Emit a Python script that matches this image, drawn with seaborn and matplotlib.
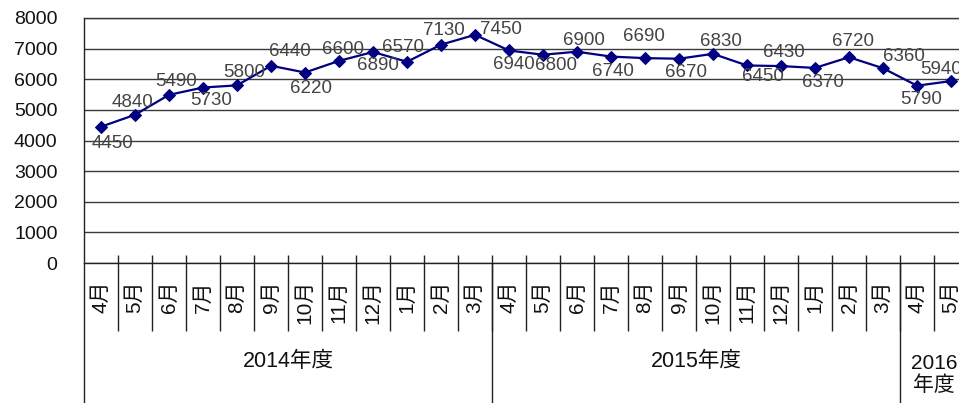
import matplotlib
matplotlib.use("Agg")
import matplotlib.pyplot as plt
import seaborn as sns
import pandas as pd

# Monthly values by fiscal year (April start)
months_2014 = ["4月", "5月", "6月", "7月", "8月", "9月", "10月", "11月", "12月", "1月", "2月", "3月"]
months_2015 = ["4月", "5月", "6月", "7月", "8月", "9月", "10月", "11月", "12月", "1月", "2月", "3月"]
months_2016 = ["4月", "5月"]
values_2014 = [4450, 4840, 5490, 5730, 5800, 6440, 6220, 6600, 6890, 6570, 7130, 7450]
values_2015 = [6940, 6800, 6900, 6740, 6690, 6670, 6830, 6450, 6430, 6370, 6720, 6360]
values_2016 = [5790, 5940]
year_labels = ["2014年度", "2015年度", "2016\n年度"]
y_ticks = [0, 1000, 2000, 3000, 4000, 5000, 6000, 7000, 8000]

months = months_2014 + months_2015 + months_2016
values = values_2014 + values_2015 + values_2016
df = pd.DataFrame({"pos": range(len(values)), "value": values})

# label placement (pixel offsets from each marker)
label_offsets = [(12, -17), (-2, 12), (7, 13), (8, -13), (7, 13), (19, 14),
                 (6, -16), (4, 11), (5, -14), (-4, 14), (3, 14), (26, 5),
                 (5, -14), (13, -11), (7, 11), (2, -15), (-1, 22), (7, -14),
                 (8, 12), (16, -11), (3, 14), (8, -15), (4, 16), (21, 12),
                 (4, -14), (-10, 12)]

sns.set_style("white")
plt.rcParams["font.family"] = ["Liberation Sans", "Noto Sans CJK JP", "DejaVu Sans"]

fig = plt.figure(figsize=(9.59, 4.03), dpi=100)
ax = fig.add_axes([84 / 959, 140 / 403, 884 / 959, 245 / 403])

sns.lineplot(data=df, x="pos", y="value", ax=ax, color="#000080", linewidth=1.6,
             marker="D", markersize=6.5, markeredgecolor="#000080",
             markerfacecolor="#000080", zorder=3)

for (x, v), (dx, dy) in zip(zip(df["pos"], df["value"]), label_offsets):
    ax.annotate(str(v), (x, v), xytext=(dx, dy), textcoords="offset pixels",
                ha="center", va="center", fontsize=13.5, color="#444444", zorder=4)

ax.set_xlim(-0.5, len(values) - 0.5)
ax.set_ylim(0, 8000)
ax.set_yticks(y_ticks)
ax.set_yticklabels([str(t) for t in y_ticks], fontsize=14)
ax.tick_params(axis="y", length=0, pad=19, labelcolor="#111111")
ax.set_xticks([])
ax.set_xlabel("")
ax.set_ylabel("")

ax.grid(axis="y", color="#3a3a3a", linewidth=1.0)
ax.grid(axis="x", visible=False)
ax.spines["right"].set_visible(False)
ax.spines["top"].set_color("#3a3a3a")
ax.spines["top"].set_linewidth(1.0)
ax.spines["bottom"].set_color("#222222")
ax.spines["left"].set_color("#222222")
ax.spines["left"].set_linewidth(1.0)
ax.spines["bottom"].set_linewidth(1.0)

tr = ax.get_xaxis_transform()
n = len(values)
# month separators
ax.vlines([i + 0.5 for i in range(n)], 0.033, -0.278, transform=tr,
          colors="#222222", linewidth=1.0, clip_on=False)
# fiscal-year separators and left edge extension
bounds = [-0.5, len(months_2014) - 0.5, len(months_2014) + len(months_2015) - 0.5]
ax.vlines(bounds, 0.0, -0.6, transform=tr, colors="#222222", linewidth=1.0, clip_on=False)

for i, m in enumerate(months):
    ax.text(i, -0.07, m, transform=tr, rotation=90, ha="center", va="top",
            fontsize=15, color="#111111")

starts = [0, len(months_2014), len(months_2014) + len(months_2015)]
counts = [len(months_2014), len(months_2015), len(months_2016)]
for s, c, lab in zip(starts, counts, year_labels):
    cx = s + (c - 1) / 2
    if "\n" in lab:
        ax.text(cx, -0.455, lab, transform=tr, ha="center", va="center",
                fontsize=15, color="#111111", linespacing=1.2, clip_on=False)
    else:
        ax.text(cx, -0.404, lab, transform=tr, ha="center", va="center",
                fontsize=15.5, color="#111111")

fig.savefig("out.png", dpi=100, facecolor="white")
